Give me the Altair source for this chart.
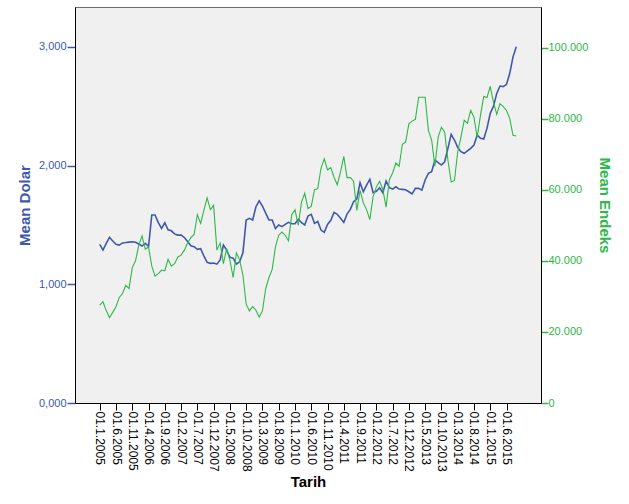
import altair as alt
import pandas as pd

# Monthly category labels, Jan 2005 .. Sep 2015
months = []
for year in range(2005, 2016):
    for m in range(1, 13):
        if year == 2015 and m > 9:
            break
        months.append(f"01.{m}.{year}")

dolar = [
    1.337, 1.289, 1.345, 1.396, 1.365, 1.337, 1.331, 1.349, 1.352, 1.356,
    1.359, 1.355, 1.340, 1.323, 1.345, 1.320, 1.584, 1.584, 1.520, 1.471,
    1.519, 1.460, 1.451, 1.425, 1.415, 1.415, 1.395, 1.360, 1.325, 1.317,
    1.295, 1.300, 1.240, 1.185, 1.177, 1.180, 1.170, 1.205, 1.331, 1.289,
    1.227, 1.220, 1.171, 1.190, 1.266, 1.542, 1.556, 1.542, 1.654, 1.704,
    1.660, 1.600, 1.542, 1.542, 1.471, 1.500, 1.486, 1.505, 1.522, 1.510,
    1.510, 1.548, 1.520, 1.500, 1.575, 1.590, 1.514, 1.530, 1.457, 1.438,
    1.505, 1.540, 1.606, 1.590, 1.556, 1.522, 1.592, 1.632, 1.696, 1.720,
    1.856, 1.780, 1.836, 1.885, 1.772, 1.784, 1.814, 1.772, 1.870, 1.814,
    1.803, 1.822, 1.803, 1.800, 1.797, 1.780, 1.762, 1.809, 1.809, 1.794,
    1.879, 1.935, 1.949, 2.047, 2.025, 2.005, 2.033, 2.146, 2.264, 2.216,
    2.154, 2.118, 2.104, 2.124, 2.146, 2.174, 2.258, 2.230, 2.224, 2.314,
    2.441, 2.500, 2.609, 2.671, 2.666, 2.685, 2.778, 2.917, 3.002,
]

endeks = [
    27500, 28500, 26000, 24000, 25500, 27100, 29700, 30800, 33100, 32200,
    38100, 40000, 44400, 47000, 43300, 43900, 38500, 35700, 36400, 37400,
    37200, 40400, 38500, 39200, 41100, 41600, 43000, 45000, 46500, 47400,
    53000, 50500, 54200, 57700, 54400, 55600, 43000, 45000, 39200, 43400,
    40200, 35300, 42200, 40200, 36000, 27800, 25900, 27100, 26100, 24200,
    25900, 32200, 35300, 37600, 43900, 47200, 48100, 47200, 45600, 53000,
    54400, 50000, 56500, 59000, 54700, 55300, 60000, 60300, 66100, 68700,
    65600, 66200, 63500, 61400, 65000, 69400, 63400, 63400, 62400, 54200,
    59800, 56300, 54400, 51600, 58000, 60800, 62400, 60000, 55100, 62800,
    64700, 67500, 66600, 72800, 73400, 78600, 79300, 79800, 86000, 86000,
    86000, 76700, 73900, 66600, 74800, 77600, 76200, 68300, 62200, 62600,
    70600, 74800, 79500, 78700, 82300, 80400, 74800, 80900, 86200, 85900,
    89100, 84600, 81200, 84200, 83400, 82300, 80000, 75300, 75100,
]

df = pd.DataFrame({
    "Tarih": months,
    "idx": list(range(len(months))),
    "Dolar": dolar,
    "Endeks": endeks,
})

tick_idx = list(range(0, len(months), 5))
label_lookup = "[" + ",".join(f"'{m}'" for m in months) + "]"

BLUE = "#3E58AC"
GREEN = "#2EB848"
FONT = "Liberation Sans"
PAD = 7.6

base = alt.Chart(df).encode(
    x=alt.X(
        "idx:Q",
        title="Tarih",
        scale=alt.Scale(domain=[-PAD, len(months) - 1 + PAD], nice=False, zero=False),
        axis=alt.Axis(
            values=tick_idx,
            labelExpr=label_lookup + "[datum.value]",
            labelAngle=90,
            labelAlign="left",
            labelBaseline="middle",
            labelFontSize=12,
            labelFont=FONT,
            labelColor="#000000",
            labelPadding=1,
            labelFlush=False,
            labelOverlap=False,
            tickColor="#000000",
            tickSize=7,
            domainColor="#000000",
            titleFont=FONT,
            titleFontSize=15,
            titleFontWeight="bold",
            titleColor="#000000",
            titlePadding=3,
            grid=False,
        ),
    )
)

blue = base.mark_line(color=BLUE, strokeWidth=1.6).encode(
    y=alt.Y(
        "Dolar:Q",
        title="Mean Dolar",
        scale=alt.Scale(domain=[0, 3.337], nice=False, zero=True),
        axis=alt.Axis(
            orient="left",
            values=[0, 1, 2, 3],
            labelExpr="replace(format(datum.value, '.3f'), '.', ',')",
            labelFont=FONT,
            labelFontSize=11,
            labelColor=BLUE,
            labelPadding=1,
            tickColor=BLUE,
            tickSize=8,
            tickWidth=1.5,
            domainColor="#000000",
            titleFont=FONT,
            titleFontSize=15,
            titleFontWeight="bold",
            titleColor=BLUE,
            titlePadding=6,
            grid=False,
        ),
    )
)

green = base.mark_line(color=GREEN, strokeWidth=1.1).encode(
    y=alt.Y(
        "Endeks:Q",
        title="Mean Endeks",
        scale=alt.Scale(domain=[0, 111400], nice=False, zero=True),
        axis=alt.Axis(
            orient="right",
            values=[0, 20000, 40000, 60000, 80000, 100000],
            labelExpr="replace(format(datum.value, ','), ',', '.')",
            labelFont=FONT,
            labelFontSize=11,
            labelColor=GREEN,
            labelPadding=0,
            tickColor=GREEN,
            tickSize=7,
            tickWidth=1.5,
            domainColor="#000000",
            titleFont=FONT,
            titleFontSize=15,
            titleFontWeight="bold",
            titleColor=GREEN,
            titlePadding=9,
            grid=False,
        ),
    )
)

chart = (
    alt.layer(blue, green)
    .resolve_scale(y="independent")
    .properties(
        width=466,
        height=396,
        autosize=alt.AutoSizeParams(type="none"),
        padding={"left": 75, "top": 7, "right": 88, "bottom": 101},
        background="#FFFFFF",
    )
    .configure_view(fill="#F0F0F0", stroke="#6E6E6E", strokeWidth=1)
)

chart.save("out.html", embed_options={"renderer": "svg", "actions": False})
